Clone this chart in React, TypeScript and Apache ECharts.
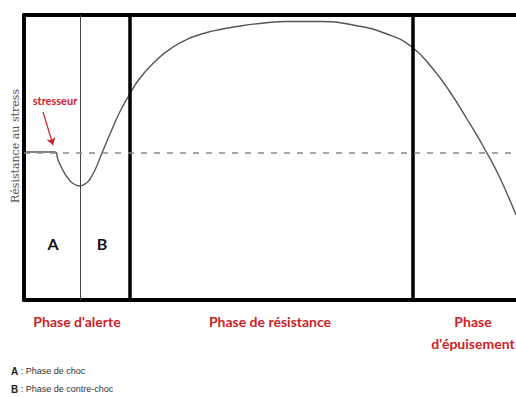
import React, { useEffect, useRef } from "react";
import * as echarts from "echarts";

// time (arbitrary units) and resistance (arbitrary units)
const curveTime = [2, 31, 34, 38, 43, 49, 56, 63, 66, 71, 78, 83, 89, 96, 104, 116, 133, 149, 166, 183, 196, 213, 236, 263, 296, 329, 363, 388, 409, 426, 443, 463, 476, 492];
const curveResistance = [148, 148, 140, 131.5, 123, 116.5, 114, 117.5, 121, 130, 147, 159, 173, 188.5, 203, 222, 240.5, 253, 262, 267.5, 270.5, 273.5, 276.5, 278.5, 278.5, 275, 266, 253, 231, 208, 181, 147, 122, 85];
const baselineResistance = 147;
const shockEnd = 56;
const phaseBoundaries = [105.5, 388.5];
const stressorArrow = [[19, 188], [29, 155]];
const phaseLabels = ["Phase d'alerte", "Phase de résistance", "Phase\nd'épuisement"];
const subPhaseLabels = ["A", "B"];
const legendLines = [
  ["A", "Phase de choc"],
  ["B", "Phase de contre-choc"],
];
const yTitle = "Résistance au stress";
const stressorLabel = "stresseur";

const RED = "#cf2027";

export default function App() {
  const ref = useRef<HTMLDivElement>(null);
  useEffect(() => {
    if (!ref.current) return;
    const chart = echarts.init(ref.current, undefined, { renderer: "svg" });
    const data = curveTime.map((t, i) => [t, curveResistance[i]]);
    const axisLine = { show: true, onZero: false, lineStyle: { color: "#000", width: 4 } };
    const hidden = {
      axisTick: { show: false },
      axisLabel: { show: false },
      splitLine: { show: false },
    };
    const txt = (text: string, x: number, y: number, extra: any = {}, rot = 0) => ({
      type: "text",
      x,
      y,
      rotation: rot,
      silent: true,
      style: {
        text,
        align: "center",
        verticalAlign: "middle",
        textAlign: "center",
        textVerticalAlign: "middle",
        ...extra,
      },
    });
    const phaseFont = { fontFamily: "Lato", fontWeight: "bold", fontSize: 14, fill: RED, lineHeight: 22 };
    chart.setOption({
      animation: false,
      backgroundColor: "#fff",
      grid: { left: 24, right: 0, top: 15, bottom: 97 },
      xAxis: [
        { type: "value", min: 0, max: 492, position: "bottom", axisLine, ...hidden },
        { type: "value", min: 0, max: 492, position: "top", axisLine, ...hidden },
      ],
      yAxis: { type: "value", min: 0, max: 285, axisLine, ...hidden },
      series: [
        {
          type: "line",
          data,
          smooth: 0.5,
          showSymbol: false,
          silent: true,
          lineStyle: { color: "#555", width: 1.4 },
          z: 3,
          markLine: {
            silent: true,
            symbol: ["none", "none"],
            label: { show: false },
            data: [
              { xAxis: shockEnd, lineStyle: { color: "#444", width: 1, type: "solid" } },
              ...phaseBoundaries.map((b) => ({ xAxis: b, lineStyle: { color: "#000", width: 3.5, type: "solid" } })),
              { yAxis: baselineResistance, lineStyle: { color: "#888", width: 1.5, type: [6, 7] } },
            ],
          },
        },
        {
          type: "line",
          data: [],
          silent: true,
          markLine: {
            silent: true,
            symbol: ["none", "arrow"],
            symbolSize: 7,
            label: { show: false },
            lineStyle: { color: RED, width: 1.2, type: "solid" },
            data: [[{ coord: stressorArrow[0] }, { coord: stressorArrow[1] }]],
          },
        },
      ],
      graphic: [
        txt(yTitle, 15, 146, { fontFamily: "DejaVu Serif", fontSize: 11, fill: "#555" }, Math.PI / 2),
        txt(stressorLabel, 55, 100, { fontFamily: "Lato", fontWeight: "bold", fontSize: 11, fill: RED }),
        txt(subPhaseLabels[0], 53, 243, { fontFamily: "Lato", fontWeight: "bold", fontSize: 16, fill: "#111" }),
        txt(subPhaseLabels[1], 102, 243, { fontFamily: "Lato", fontWeight: "bold", fontSize: 16, fill: "#111" }),
        txt(phaseLabels[0], 77, 321, phaseFont),
        txt(phaseLabels[1], 270, 321, phaseFont),
        txt(phaseLabels[2], 473, 332, phaseFont),
        ...legendLines.map((l, i) => ({
          type: "text",
          x: 11,
          y: 371 + i * 18,
          silent: true,
          style: {
            text: `{b|${l[0]}} : ${l[1]}`,
            fontFamily: "Liberation Sans",
            fontSize: 9,
            fill: "#333",
            verticalAlign: "middle",
            textVerticalAlign: "middle",
            rich: { b: { fontWeight: "bold", fontSize: 10, fill: "#222", fontFamily: "Liberation Sans" } },
          },
        })),
      ],
    });
    return () => chart.dispose();
  }, []);
  return <div ref={ref} style={{ position: "fixed", left: 0, top: 0, width: 516, height: 397 }} />;
}
